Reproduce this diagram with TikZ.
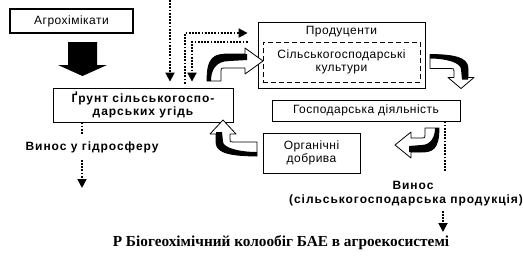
\documentclass[tikz,border=0pt]{standalone}
\usepackage{fontspec}
\setmainfont{Liberation Sans}
\newfontfamily\regsans[LetterSpace=4]{Liberation Sans}
\newfontfamily\boldsans[LetterSpace=8]{Liberation Sans Bold}
\newfontfamily\capfont{Liberation Serif Bold}
\usetikzlibrary{arrows.meta}
% curved block arrow: #1 = a (tail leg), #2 = b (to head base), #3 = head length
\newcommand\myCurveArrow[3]{%
  \filldraw[fill=white, line width=0.8pt, line join=round]
    (-7,0) .. controls (-7,{-0.9*(#1+7)}) and (0,{-(#1+7)}) .. ({0.5*#2},{-(#1+7)})
    -- (#2,{-(#1+7)}) -- (#2,{-#1-13}) -- ({#2+#3},{-#1}) -- (#2,{-#1+13})
    -- (#2,{-#1+7}) -- (10,{-#1+7}) .. controls (7,{-#1+7}) .. (7,{-#1+10})
    -- (7,0) -- cycle;
  \fill
    (-7,0) .. controls (-7,{-0.9*(#1+7)}) and (0,{-(#1+7)}) .. ({0.5*#2},{-(#1+7)})
    -- ({#2+2},{-(#1+7)}) -- ({#2+2},{-#1-1})
    -- ({0.5*#2},{-#1}) .. controls (1,{-#1}) and (-3,{-0.5*#1}) .. (-3,0) -- cycle;
}
\begin{document}
\begin{tikzpicture}[x=1pt,y=-1pt,
  box/.style={draw, line width=0.8pt, inner sep=0pt, align=center, font=\regsans\fontsize{12}{13}\selectfont},
  boldtext/.style={font=\boldsans\fontsize{12}{13.5}\selectfont, align=center, inner sep=0pt},
  dotline/.style={line width=1.8pt, dash pattern=on 1.8pt off 1.4pt},
  tip/.style={-{Triangle[width=9pt,length=9pt]}}]
\useasboundingbox (0,0) rectangle (523,266);

% boxes
\node[box, line width=1.3pt, minimum width=123pt, minimum height=24pt] (agro) at (71.5,21) {Агрохімікати};
\node[box, font=\boldsans\fontsize{12}{13}\selectfont, minimum width=180pt, minimum height=34pt] (soil) at (143,105) {Ґрунт сільськогоспо-\\дарських угідь};
\node[box, minimum width=167pt, minimum height=66pt] (prod) at (341.5,55) {};
\node[inner sep=0pt, font=\regsans\fontsize{12}{13}\selectfont] (prodt) at (341.5,32) {Продуценти};
\node[box, dashed, dash pattern=on 5pt off 3pt, minimum width=157pt, minimum height=40pt] (crops) at (341.5,62) {Сільськогосподарські\\культури};
\node[box, minimum width=188pt, minimum height=21pt] (econ) at (366,110.5) {Господарська діяльність};
\node[box, minimum width=97pt, minimum height=40pt] (org) at (311.5,153) {Органічні\\добрива};

% big block arrow agro -> soil
\fill (68,42) -- (97,42) -- (97,65) -- (107,65) -- (82.5,76) -- (58,65) -- (68,65) -- cycle;

% dotted connectors
\coordinate (t1) at (170,0);
\draw[dotline, tip, shorten >=6pt] (t1) -- (soil.north -| t1);
\coordinate (c2) at (185,33);
\draw[dotline, tip, shorten <=4pt, shorten >=10pt] (soil.north -| c2) |- (prod.west |- c2);
\coordinate (c3) at (192,42);
\draw[dotline, tip, shorten <=10pt, shorten >=6pt] (prod.west |- c3) -| (soil.north -| c3);

% right outflow
\coordinate (w1) at (445,172);
\draw[dotline] (econ.south -| w1) -- (w1);
\node[boldtext] (win1) at (413,185) {Винос};
\node[boldtext] (win2) at (406,200) {(сільськогосподарська продукція)};
\coordinate (w2) at (443,232);
\draw[dotline, tip, shorten <=5pt] (win2.south -| w2) -- (w2);

% left outflow
\coordinate (h1) at (82,135);
\draw[dotline] (soil.south -| h1) -- (h1);
\node[boldtext] (hyd) at (92,147) {Винос у гідросферу};
\coordinate (h2) at (82,188);
\draw[dotline, tip, shorten <=7pt] (hyd.south -| h2) -- (h2);

% curved arrows
\begin{scope}[shift={(214,81)}] \myCurveArrow{20}{31}{18} \end{scope}
\begin{scope}[shift={(430,61.5)}, rotate=-90] \myCurveArrow{31}{16}{11} \end{scope}
\begin{scope}[shift={(257,149)}, rotate=90] \myCurveArrow{34}{15}{14} \end{scope}
\begin{scope}[shift={(432,128)}, rotate=180] \myCurveArrow{17}{21}{16} \end{scope}

% caption
\node[inner sep=0pt, font=\capfont\fontsize{15.3}{17}\selectfont] (cap) at (281,243) {Р Біогеохімічний колообіг БАЕ в агроекосистемі};
\end{tikzpicture}
\end{document}
